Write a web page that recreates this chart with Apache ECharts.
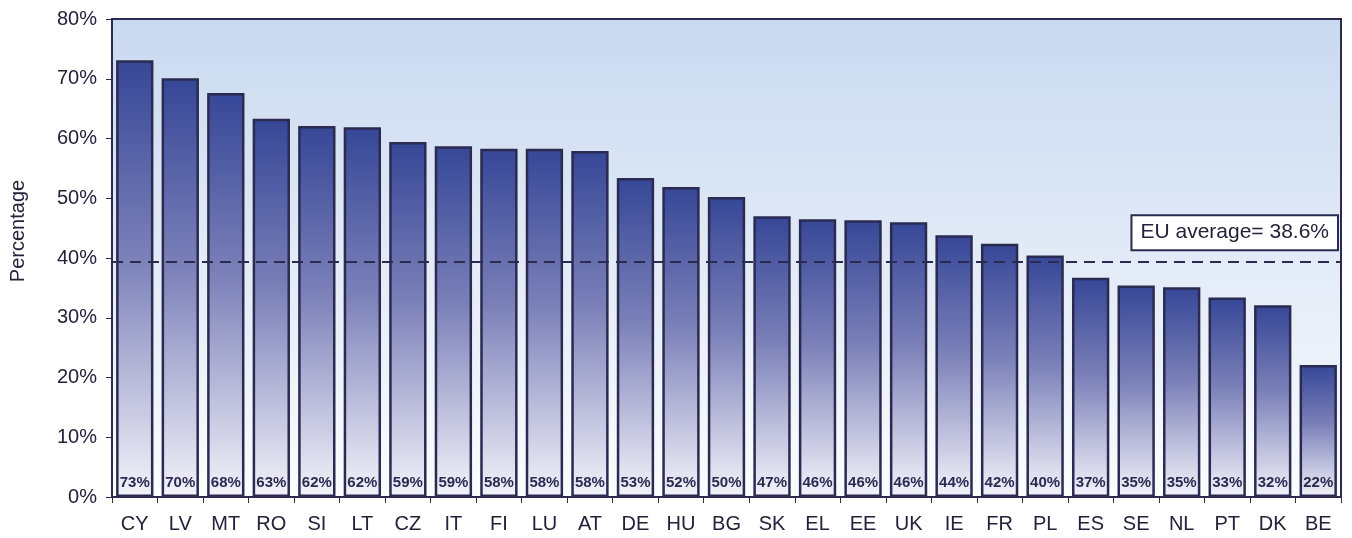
<!DOCTYPE html>
<html>
<head>
<meta charset="utf-8">
<script src="https://cdn.jsdelivr.net/npm/echarts@6/dist/echarts.min.js"></script>
<style>
  html, body { margin: 0; padding: 0; background: #fff; }
  #main { width: 1352px; height: 538px; }
</style>
</head>
<body>
<div id="main"></div>
<script>
// countries, sorted as in the picture
var countries = ["CY", "LV", "MT", "RO", "SI", "LT", "CZ", "IT", "FI", "LU", "AT", "DE", "HU", "BG",
  "SK", "EL", "EE", "UK", "IE", "FR", "PL", "ES", "SE", "NL", "PT", "DK", "BE"];
// bar heights (%)
var shares = [73.1, 70.1, 67.6, 63.3, 62.1, 61.9, 59.4, 58.7, 58.3, 58.3, 57.9, 53.4, 51.9, 50.2,
  47.0, 46.5, 46.3, 46.0, 43.8, 42.4, 40.4, 36.7, 35.4, 35.1, 33.4, 32.1, 22.1];
// printed labels inside bars
var shareLabels = ["73%", "70%", "68%", "63%", "62%", "62%", "59%", "59%", "58%", "58%", "58%", "53%", "52%", "50%",
  "47%", "46%", "46%", "46%", "44%", "42%", "40%", "37%", "35%", "35%", "33%", "32%", "22%"];
var yTicks = [0, 10, 20, 30, 40, 50, 60, 70, 80];
var euAverageLine = 39.3;
var euAverageText = "EU average= 38.6%";

var ink = "#2b2b52";
var chart = echarts.init(document.getElementById("main"), null, { renderer: "canvas" });

var option = {
  backgroundColor: "#ffffff",
  textStyle: { fontFamily: "Liberation Sans, Arial, sans-serif" },
  grid: {
    left: 111, right: 11, top: 19, bottom: 41,
    show: true,
    borderColor: ink,
    borderWidth: 2,
    backgroundColor: new echarts.graphic.LinearGradient(0, 0, 0, 1, [
      { offset: 0, color: "#c9d9ef" },
      { offset: 1, color: "#fbfcfe" }
    ])
  },
  xAxis: {
    type: "category",
    data: countries,
    axisLine: { lineStyle: { color: ink, width: 2 } },
    axisTick: { show: true, length: 6, lineStyle: { color: ink, width: 1 } },
    axisLabel: { color: "#22223a", fontSize: 20, margin: 17 }
  },
  yAxis: {
    type: "value",
    min: yTicks[0],
    max: yTicks[yTicks.length - 1],
    interval: 10,
    name: "Percentage",
    nameLocation: "middle",
    nameGap: 84,
    nameRotate: 90,
    nameTextStyle: { color: "#22223a", fontSize: 20, padding: [0, 0, 0, 54] },
    splitLine: { show: false },
    axisLine: { show: true, lineStyle: { color: ink, width: 2 } },
    axisTick: { show: true, length: 6, lineStyle: { color: ink, width: 1 } },
    axisLabel: { color: "#22223a", fontSize: 20, margin: 15, formatter: "{value}%" }
  },
  series: [
    {
      type: "bar",
      data: shares,
      barCategoryGap: "18%",
      itemStyle: {
        borderColor: ink,
        borderWidth: 2.5,
        color: new echarts.graphic.LinearGradient(0, 0, 0, 1, [
          { offset: 0, color: "#364797" },
          { offset: 0.45, color: "#7b80b8" },
          { offset: 1, color: "#f4f3fa" }
        ])
      },
      label: {
        show: true,
        position: "insideBottom",
        distance: 7,
        color: ink,
        fontSize: 15,
        fontWeight: "bold",
        formatter: function (p) { return shareLabels[p.dataIndex]; }
      },
      markLine: {
        silent: true,
        symbol: ["none", "none"],
        lineStyle: { color: ink, width: 2, type: [11, 7] },
        label: {
          show: true,
          position: "insideEndTop",
          formatter: euAverageText,
          color: "#22223a",
          fontSize: 21,
          backgroundColor: "#ffffff",
          borderColor: ink,
          borderWidth: 2,
          padding: [6, 8, 6, 8],
          distance: [4, 13]
        },
        data: [{ yAxis: euAverageLine }]
      }
    }
  ]
};

chart.setOption(option);
</script>
</body>
</html>
